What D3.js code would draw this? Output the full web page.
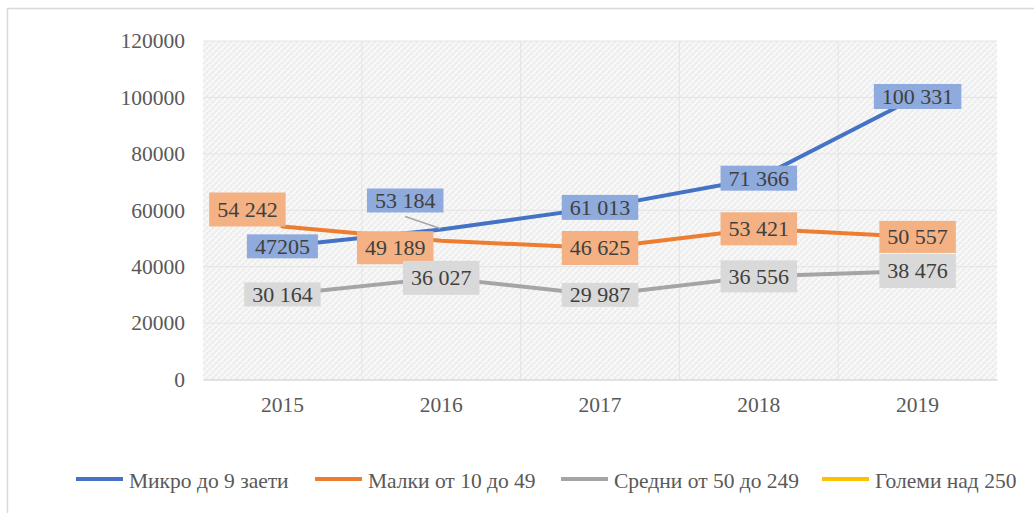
<!DOCTYPE html>
<html>
<head>
<meta charset="utf-8">
<script src="https://cdn.jsdelivr.net/npm/d3@7"></script>
<style>
  body { margin: 0; background: #fff; }
  svg text { font-family: "Liberation Serif", Tinos, "Times New Roman", "DejaVu Serif", serif; }
</style>
</head>
<body>
<svg id="chart" width="1034" height="513"></svg>
<script>
const years = ["2015", "2016", "2017", "2018", "2019"];
const seriesNames = ["Микро до 9 заети", "Малки от 10 до 49", "Средни от 50 до 249", "Големи над 250"];
const micro = [47205, 53184, 61013, 71366, 100331];
const small = [54242, 49189, 46625, 53421, 50557];
const medium = [30164, 36027, 29987, 36556, 38476];
const large = [];
const microLabels = ["47205", "53 184", "61 013", "71 366", "100 331"];
const smallLabels = ["54 242", "49 189", "46 625", "53 421", "50 557"];
const mediumLabels = ["30 164", "36 027", "29 987", "36 556", "38 476"];
const yTicks = [0, 20000, 40000, 60000, 80000, 100000, 120000];

const lineColors = ["#4472C4", "#ED7D31", "#A5A5A5", "#FFC000"];
const boxColors = ["#8FAADC", "#F4B183", "#D9D9D9"];

// label placement tweaks (relative to the point) and box heights
const labelShift = [
    [[0, 0], [-36, -29], [0, 0], [0, 0], [0, 0]],
    [[-35, -17], [-46, 7], [0, 0], [0, 0], [0, 0]],
    [[0, 0], [0, 0], [0, 0], [0, 0], [0, 0]]
];
const labelHeight = [
    [24, 24, 25, 25, 25],
    [34, 33, 34, 33, 32],
    [24, 34, 24, 32, 34]
];

const svg = d3.select('#chart');
const fontSize = 21.5;
const serif = '"Liberation Serif", Tinos, "Times New Roman", "DejaVu Serif", serif';

const plotLeft = 203, plotRight = 997, plotTop = 41, plotBottom = 379.5;

const x = d3.scaleBand().domain(years).range([plotLeft, plotRight]);
const y = d3.scaleLinear().domain([0, 120000]).range([plotBottom, plotTop]);

// chart frame
svg.append("rect")
    .attr("x", 7.5).attr("y", 8.5)
    .attr("width", 1200).attr("height", 700)
    .attr("fill", "none")
    .attr("stroke", "#D9D9D9")
    .attr("stroke-width", 1.5);

// hatched plot background
const defs = svg.append("defs");
const pat = defs.append("pattern")
    .attr("id", "hatch")
    .attr("patternUnits", "userSpaceOnUse")
    .attr("width", 6).attr("height", 6);
pat.append("rect").attr("width", 6).attr("height", 6).attr("fill", "#EDEDED");
pat.append("path").attr("d", "M0,6 L6,0 M-1,1 L1,-1 M5,7 L7,5").attr("stroke", "#FAFAFA").attr("stroke-width", 1.6);
pat.append("path").attr("d", "M0,0 L6,6 M-1,5 L1,7 M5,-1 L7,1").attr("stroke", "#F8F8F8").attr("stroke-width", 1);

svg.append("rect")
    .attr("x", plotLeft).attr("y", plotTop)
    .attr("width", plotRight - plotLeft).attr("height", plotBottom - plotTop)
    .attr("fill", "url(#hatch)");

// gridlines
svg.append("g").selectAll("line")
    .data(yTicks.slice(1))
    .join("line")
    .attr("x1", plotLeft).attr("x2", plotRight)
    .attr("y1", d => y(d)).attr("y2", d => y(d))
    .attr("stroke", "#E4E4E4").attr("stroke-width", 1);

svg.append("g").selectAll("line")
    .data(years.slice(1))
    .join("line")
    .attr("x1", d => x(d)).attr("x2", d => x(d))
    .attr("y1", plotTop).attr("y2", plotBottom)
    .attr("stroke", "#E4E4E4").attr("stroke-width", 1);

// y axis
const yAxis = svg.append("g")
    .attr("transform", `translate(${plotLeft - 18},0)`)
    .call(d3.axisLeft(y).tickValues(yTicks).tickSize(0).tickPadding(0).tickFormat(d3.format("d")));
yAxis.attr("font-family", serif);
yAxis.select(".domain").remove();
yAxis.selectAll("text")
    .attr("font-size", fontSize)
    .attr("fill", "#595959");

// x axis
const xAxis = svg.append("g")
    .attr("transform", `translate(0,${plotBottom})`)
    .call(d3.axisBottom(x).tickSize(0).tickPadding(17));
xAxis.attr("font-family", serif);
xAxis.select(".domain").attr("stroke", "#D9D9D9").attr("stroke-width", 1.5);
xAxis.selectAll("text")
    .attr("font-size", fontSize)
    .attr("fill", "#595959");

// lines
const allSeries = [micro, small, medium, large];
const line = d3.line()
    .x((d, i) => x(years[i]) + x.bandwidth() / 2)
    .y(d => y(d));

allSeries.forEach(function(values, s) {
    if (values.length === 0) return;
    svg.append("path")
        .datum(values)
        .attr("d", line)
        .attr("fill", "none")
        .attr("stroke", lineColors[s])
        .attr("stroke-width", 4)
        .attr("stroke-linejoin", "round")
        .attr("stroke-linecap", "round");
});

// leader line for the shifted 2016 micro label
const lx = x(years[1]) + x.bandwidth() / 2;
const ly = y(micro[1]);
svg.append("line")
    .attr("x1", lx + labelShift[0][1][0]).attr("y1", ly + labelShift[0][1][1] + 16)
    .attr("x2", lx - 1).attr("y2", ly - 1)
    .attr("stroke", "#A6A6A6").attr("stroke-width", 1.5);

// data labels
const labelSets = [microLabels, smallLabels, mediumLabels];
labelSets.forEach(function(labels, s) {
    labels.forEach(function(txt, i) {
        const cx = x(years[i]) + x.bandwidth() / 2 + labelShift[s][i][0];
        const cy = y(allSeries[s][i]) + labelShift[s][i][1];
        const g = svg.append("g");
        const t = g.append("text")
            .attr("x", cx)
            .attr("y", cy)
            .attr("text-anchor", "middle")
            .attr("dominant-baseline", "central")
            .attr("font-family", serif)
            .attr("font-size", fontSize + 0.5)
            .attr("fill", "#404040")
            .text(txt);
        const w = t.node().getComputedTextLength() + 16;
        const h = labelHeight[s][i];
        g.insert("rect", "text")
            .attr("x", cx - w / 2)
            .attr("y", cy - h / 2)
            .attr("width", w)
            .attr("height", h)
            .attr("fill", boxColors[s]);
    });
});

// legend
const legendX = [76, 315, 561, 822];
const legendY = 479;
seriesNames.forEach(function(name, i) {
    svg.append("line")
        .attr("x1", legendX[i]).attr("x2", legendX[i] + 47)
        .attr("y1", legendY).attr("y2", legendY)
        .attr("stroke", lineColors[i])
        .attr("stroke-width", 4);
    svg.append("text")
        .attr("x", legendX[i] + 53)
        .attr("y", legendY + 9)
        .attr("font-family", serif)
        .attr("font-size", fontSize)
        .attr("fill", "#595959")
        .text(name);
});
</script>
</body>
</html>
